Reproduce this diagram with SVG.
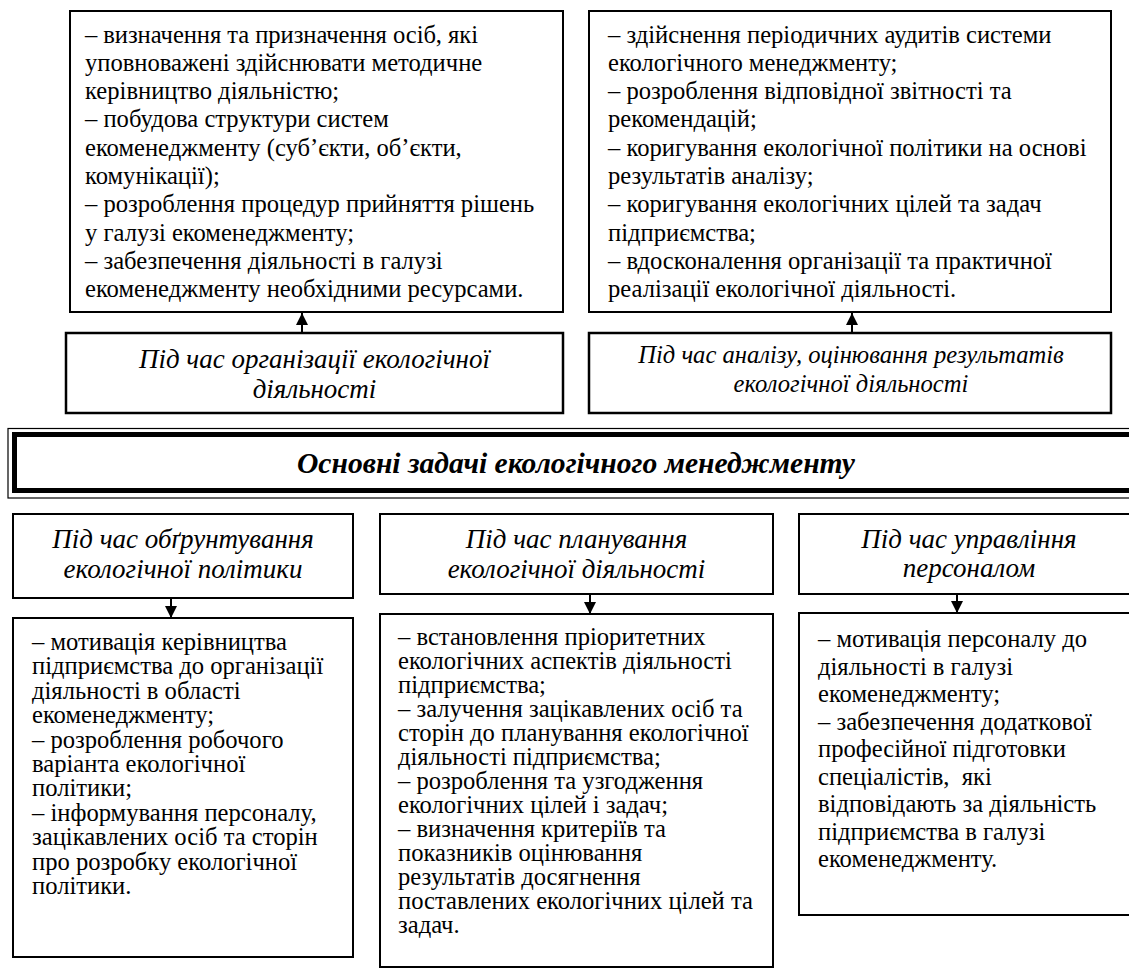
<svg xmlns="http://www.w3.org/2000/svg" width="1129" height="970" viewBox="0 0 1129 970">
<style>
.box{fill:#fff;stroke:#000;stroke-width:2}
.mid{fill:#fff;stroke:#000;stroke-width:2.5}
.t{font-family:"Liberation Serif","Times New Roman",serif;font-size:24.6px;fill:#000}
.h{font-family:"Liberation Serif","Times New Roman",serif;font-size:27px;font-style:italic;fill:#000;text-anchor:middle}
.hs{font-size:24.6px}
.band{font-family:"Liberation Serif","Times New Roman",serif;font-size:29.6px;font-style:italic;font-weight:bold;fill:#000;text-anchor:middle}
.c{stroke:#000;stroke-width:2;fill:none}
</style>
<defs>
<marker id="ah" viewBox="0 0 12 12" refX="12" refY="6" markerWidth="12" markerHeight="12" markerUnits="userSpaceOnUse" orient="auto"><path d="M0,0 L12,6 L0,12 z" fill="#000"/></marker>
</defs>
<rect width="1129" height="970" fill="#fff"/>

<g id="top-left">
<rect class="box" x="70" y="11" width="493" height="301"/>
<text class="t" x="85" y="42.5" textLength="393" lengthAdjust="spacing">– визначення та призначення осіб, які</text>
<text class="t" x="85" y="70.8">уповноважені здійснювати методичне</text>
<text class="t" x="85" y="99.1">керівництво діяльністю;</text>
<text class="t" x="85" y="127.4">– побудова структури систем</text>
<text class="t" x="85" y="155.7">екоменеджменту (суб’єкти, об’єкти,</text>
<text class="t" x="85" y="184">комунікації);</text>
<text class="t" x="85" y="212.3">– розроблення процедур прийняття рішень</text>
<text class="t" x="85" y="240.6">у галузі екоменеджменту;</text>
<text class="t" x="85" y="268.9">– забезпечення діяльності в галузі</text>
<text class="t" x="85" y="297.2">екоменеджменту необхідними ресурсами.</text>
</g>

<g id="top-right">
<rect class="box" x="589" y="11" width="522" height="301"/>
<text class="t" x="608" y="42.5">– здійснення періодичних аудитів системи</text>
<text class="t" x="608" y="70.8">екологічного менеджменту;</text>
<text class="t" x="608" y="99.1">– розроблення відповідної звітності та</text>
<text class="t" x="608" y="127.4">рекомендацій;</text>
<text class="t" x="608" y="155.7">– коригування екологічної політики на основі</text>
<text class="t" x="608" y="184">результатів аналізу;</text>
<text class="t" x="608" y="212.3">– коригування екологічних цілей та задач</text>
<text class="t" x="608" y="240.6">підприємства;</text>
<text class="t" x="608" y="268.9">– вдосконалення організації та практичної</text>
<text class="t" x="608" y="297.2">реалізації екологічної діяльності.</text>
</g>

<g id="org">
<rect class="mid" x="66" y="333" width="497" height="80"/>
<text class="h" x="314.5" y="368">Під час організації екологічної</text>
<text class="h" x="314.5" y="398">діяльності</text>
</g>

<g id="analysis">
<rect class="mid" x="589" y="333" width="522" height="80"/>
<text class="h hs" x="851" y="363">Під час аналізу, оцінювання результатів</text>
<text class="h hs" x="851" y="392">екологічної діяльності</text>
</g>

<g id="main">
<rect x="8" y="428.5" width="1130" height="69.5" fill="#fff" stroke="#000" stroke-width="1.2"/>
<rect x="14.5" y="434.5" width="1130" height="56" fill="none" stroke="#000" stroke-width="5"/>
<text class="band" x="576" y="473">Основні задачі екологічного менеджменту</text>
</g>

<g id="policy">
<rect class="box" x="13" y="514" width="340" height="84"/>
<text class="h" x="183" y="548">Під час обґрунтування</text>
<text class="h" x="183" y="578">екологічної політики</text>
</g>

<g id="planning">
<rect class="box" x="380" y="514" width="393" height="80"/>
<text class="h" x="576.5" y="548">Під час планування</text>
<text class="h" x="576.5" y="578">екологічної діяльності</text>
</g>

<g id="personnel">
<rect class="box" x="799" y="514" width="340" height="80"/>
<text class="h" x="969" y="548">Під час управління</text>
<text class="h" x="969" y="577">персоналом</text>
</g>

<g id="policy-tasks">
<rect class="box" x="13" y="618" width="340" height="339"/>
<text class="t" x="32" y="650">– мотивація керівництва</text>
<text class="t" x="32" y="674.4">підприємства до організації</text>
<text class="t" x="32" y="698.8">діяльності в області</text>
<text class="t" x="32" y="723.2">екоменеджменту;</text>
<text class="t" x="32" y="747.6">– розроблення робочого</text>
<text class="t" x="32" y="772">варіанта екологічної</text>
<text class="t" x="32" y="796.4">політики;</text>
<text class="t" x="32" y="820.8">– інформування персоналу,</text>
<text class="t" x="32" y="845.2">зацікавлених осіб та сторін</text>
<text class="t" x="32" y="869.6">про розробку екологічної</text>
<text class="t" x="32" y="894">політики.</text>
</g>

<g id="planning-tasks">
<rect class="box" x="380" y="614" width="393" height="353"/>
<text class="t" x="398" y="645">– встановлення пріоритетних</text>
<text class="t" x="398" y="669">екологічних аспектів діяльності</text>
<text class="t" x="398" y="693">підприємства;</text>
<text class="t" x="398" y="717">– залучення зацікавлених осіб та</text>
<text class="t" x="398" y="741">сторін до планування екологічної</text>
<text class="t" x="398" y="765">діяльності підприємства;</text>
<text class="t" x="398" y="789">– розроблення та узгодження</text>
<text class="t" x="398" y="813">екологічних цілей і задач;</text>
<text class="t" x="398" y="837">– визначення критеріїв та</text>
<text class="t" x="398" y="861">показників оцінювання</text>
<text class="t" x="398" y="885">результатів досягнення</text>
<text class="t" x="398" y="909">поставлених екологічних цілей та</text>
<text class="t" x="398" y="933">задач.</text>
</g>

<g id="personnel-tasks">
<rect class="box" x="799" y="613" width="340" height="302"/>
<text class="t" x="818" y="647">– мотивація персоналу до</text>
<text class="t" x="818" y="674.5">діяльності в галузі</text>
<text class="t" x="818" y="702">екоменеджменту;</text>
<text class="t" x="818" y="729.5">– забезпечення додаткової</text>
<text class="t" x="818" y="757">професійної підготовки</text>
<text class="t" x="818" y="784.5" xml:space="preserve">спеціалістів,  які</text>
<text class="t" x="818" y="812">відповідають за діяльність</text>
<text class="t" x="818" y="839.5">підприємства в галузі</text>
<text class="t" x="818" y="867">екоменеджменту.</text>
</g>

<g id="connectors">
<line class="c" x1="302" y1="333" x2="302" y2="313" marker-end="url(#ah)"/>
<line class="c" x1="852" y1="333" x2="852" y2="313" marker-end="url(#ah)"/>
<line class="c" x1="171" y1="598" x2="171" y2="618" marker-end="url(#ah)"/>
<line class="c" x1="590" y1="594" x2="590" y2="614" marker-end="url(#ah)"/>
<line class="c" x1="957" y1="594" x2="957" y2="613" marker-end="url(#ah)"/>
</g>
</svg>
